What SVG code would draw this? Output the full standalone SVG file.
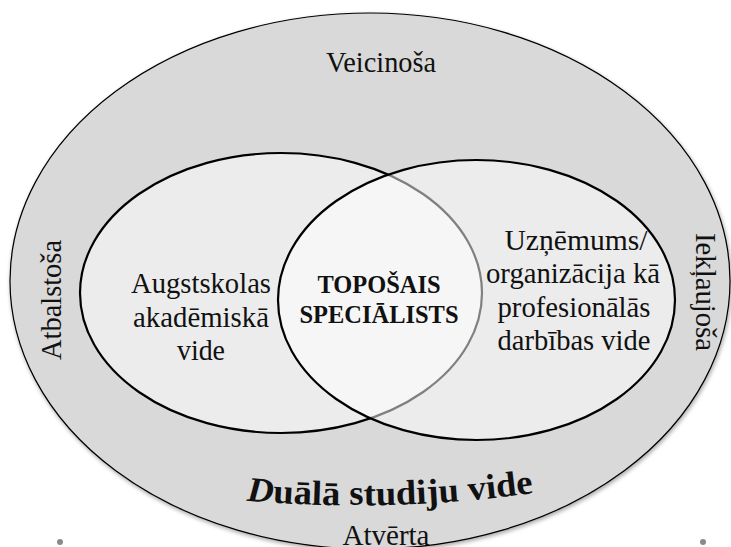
<svg xmlns="http://www.w3.org/2000/svg" width="731" height="547" viewBox="0 0 731 547">
<defs>
<filter id="sh" x="-5%" y="-5%" width="110%" height="110%">
<feGaussianBlur in="SourceAlpha" stdDeviation="2"/>
<feOffset dx="1" dy="2" result="b"/>
<feComponentTransfer><feFuncA type="linear" slope="0.35"/></feComponentTransfer>
<feMerge><feMergeNode/><feMergeNode in="SourceGraphic"/></feMerge>
</filter>
<path id="arc" d="M 240 500 Q 390 514 540 492"/>
</defs>
<style>
text{font-family:'Liberation Serif','Times New Roman',Times,serif;fill:#111;}
.n{font-size:30px;}
.b{font-weight:bold;}
.inner{fill:#fff;fill-opacity:0.5;stroke:#000;stroke-width:2.2;}
</style>
<rect width="731" height="547" fill="#fff"/>
<g id="outer">
<ellipse cx="370" cy="281" rx="360" ry="268" fill="#d9d9d9" stroke="#000" stroke-width="1.2" filter="url(#sh)"/>
<text class="n" x="381" y="72" text-anchor="middle" textLength="110" lengthAdjust="spacingAndGlyphs">Veicinoša</text>
<text class="n" transform="translate(61,300) rotate(-90)" text-anchor="middle" textLength="120" lengthAdjust="spacingAndGlyphs">Atbalstoša</text>
<text class="n" transform="translate(696,292) rotate(90)" text-anchor="middle" textLength="118" lengthAdjust="spacingAndGlyphs">Iekļaujoša</text>
<text class="b" font-size="35"><textPath href="#arc" startOffset="50%" text-anchor="middle" textLength="288" lengthAdjust="spacingAndGlyphs"><tspan font-style="italic">D</tspan>uālā studiju vide</textPath></text>
<text class="n" x="386" y="545" text-anchor="middle" textLength="87" lengthAdjust="spacingAndGlyphs">Atvērta</text>
</g>
<g id="academic">
<ellipse class="inner" cx="281" cy="293" rx="201" ry="140"/>
<text class="n" x="201" y="293" text-anchor="middle" textLength="140" lengthAdjust="spacingAndGlyphs">Augstskolas</text>
<text class="n" x="201" y="327" text-anchor="middle" textLength="136" lengthAdjust="spacingAndGlyphs">akadēmiskā</text>
<text class="n" x="201" y="360" text-anchor="middle" textLength="48" lengthAdjust="spacingAndGlyphs">vide</text>
</g>
<g id="company">
<ellipse class="inner" cx="476.5" cy="300" rx="198.5" ry="140"/>
<text class="n" x="576" y="250" text-anchor="middle" textLength="143" lengthAdjust="spacingAndGlyphs">Uzņēmums/</text>
<text class="n" x="573" y="283" text-anchor="middle" textLength="174" lengthAdjust="spacingAndGlyphs">organizācija kā</text>
<text class="n" x="574" y="317" text-anchor="middle" textLength="153" lengthAdjust="spacingAndGlyphs">profesionālās</text>
<text class="n" x="574" y="350" text-anchor="middle" textLength="153" lengthAdjust="spacingAndGlyphs">darbības vide</text>
</g>
<g id="specialist">
<text class="b" x="379" y="293" font-size="25" text-anchor="middle" textLength="123" lengthAdjust="spacingAndGlyphs">TOPOŠAIS</text>
<text class="b" x="379" y="323" font-size="25" text-anchor="middle" textLength="159" lengthAdjust="spacingAndGlyphs">SPECIĀLISTS</text>
</g>
<g id="dots" fill="#8a8a8a">
<circle cx="60" cy="542" r="3"/>
<circle cx="703" cy="542" r="3"/>
</g>
</svg>
